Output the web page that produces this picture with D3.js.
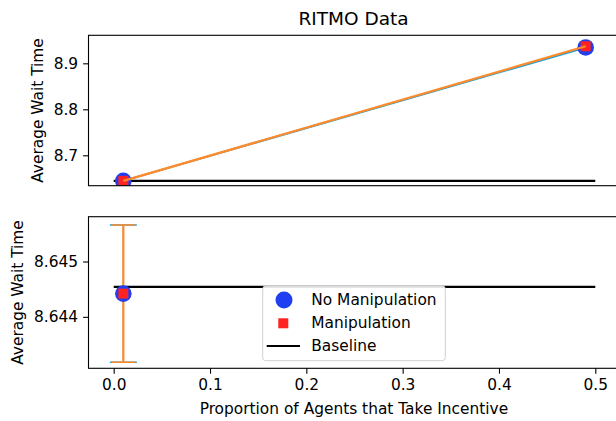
<!DOCTYPE html>
<html>
<head>
<meta charset="utf-8">
<script src="https://cdn.jsdelivr.net/npm/d3@7"></script>
<style>
  body { margin: 0; background: #fff; }
  svg { display: block; font-family: "DejaVu Sans", sans-serif; }
</style>
</head>
<body>
<svg width="616" height="421"></svg>
<script>
const svg = d3.select("svg");
const width = +svg.attr("width");
const height = +svg.attr("height");

// data
const proportions = [0.01, 0.49];
const noManip = [8.64442, 8.9345];
const noManipErr = [0.00124, 0.00124];
const manip = [8.64442, 8.937];
const manipErr = [0.00124, 0.00124];
const baselineX = [0.0, 0.5];
const baselineY = 8.64454;
const xTicks = [0.0, 0.1, 0.2, 0.3, 0.4, 0.5];
const topTicks = [8.7, 8.8, 8.9];
const bottomTicks = [8.644, 8.645];
const legendLabels = ["No Manipulation", "Manipulation", "Baseline"];

const blue = "#1f3ff0";
const red = "#ff2222";
const tabBlue = "#1f9fd4";
const tabOrange = "#ff8a2a";
const fs = 15.4;

const left = 88.5, right = 620;
const x = d3.scaleLinear().domain([0, 0.5]).range([113.7, 595.3]);

// top panel: connecting lines, bottom panel: zoomed error bars
const panels = [
  { top: 35.3, bottom: 185.7, domain: [8.6339, 8.9609], ticks: topTicks, fmt: d3.format(".1f"), labelX: 37.5, zoomed: false },
  { top: 216.7, bottom: 368.3, domain: [8.64307, 8.64581], ticks: bottomTicks, fmt: d3.format(".3f"), labelX: 17.5, zoomed: true }
];

panels.forEach((p, i) => {
  const y = d3.scaleLinear().domain(p.domain).range([p.bottom, p.top]);
  const g = svg.append("g");

  svg.append("clipPath").attr("id", "clip" + i)
    .append("rect").attr("x", left).attr("y", p.top)
    .attr("width", right - left).attr("height", p.bottom - p.top);

  const plot = g.append("g").attr("clip-path", `url(#clip${i})`);

  // baseline
  plot.append("line")
    .attr("x1", x(baselineX[0])).attr("x2", x(baselineX[1]))
    .attr("y1", y(baselineY)).attr("y2", y(baselineY))
    .attr("stroke", "#000").attr("stroke-width", 2.2);

  const line = d3.line().x((d, k) => x(proportions[k])).y(d => y(d));

  const drawErr = (vals, errs, color, cap, lw) => {
    const eg = plot.append("g").attr("stroke", color).attr("fill", "none");
    if (!p.zoomed) {
      eg.append("path").attr("d", line(vals)).attr("stroke-width", lw);
      return;
    }
    vals.forEach((v, k) => {
      const cx = x(proportions[k]);
      eg.append("line").attr("x1", cx).attr("x2", cx)
        .attr("y1", y(v - errs[k])).attr("y2", y(v + errs[k]))
        .attr("stroke-width", lw);
      [v - errs[k], v + errs[k]].forEach(e => {
        eg.append("line").attr("x1", cx - cap).attr("x2", cx + cap)
          .attr("y1", y(e)).attr("y2", y(e)).attr("stroke-width", 1.5);
      });
    });
  };

  const drawMarkers = () => {
    const mg = plot.append("g");
    noManip.forEach((v, k) => {
      mg.append("circle").attr("cx", x(proportions[k])).attr("cy", y(v))
        .attr("r", 8.3).attr("fill", blue);
    });
    manip.forEach((v, k) => {
      mg.append("rect").attr("x", x(proportions[k]) - 5).attr("y", y(v) - 5)
        .attr("width", 10).attr("height", 10).attr("fill", red);
    });
  };

  if (!p.zoomed) {
    drawErr(noManip, noManipErr, tabBlue, 13.5, 2.0);
    drawMarkers();
    drawErr(manip, manipErr, tabOrange, 11.5, 2.2);
  } else {
    drawErr(noManip, noManipErr, tabBlue, 13.5, 1.2);
    drawErr(manip, manipErr, tabOrange, 11.5, 2.2);
    drawMarkers();
  }

  // frame
  g.append("rect").attr("x", left).attr("y", p.top)
    .attr("width", right - left).attr("height", p.bottom - p.top)
    .attr("fill", "none").attr("stroke", "#000").attr("stroke-width", 1.1);

  // y axis
  const yAxis = g.append("g").attr("transform", `translate(${left},0)`)
    .call(d3.axisLeft(y).tickValues(p.ticks).tickFormat(p.fmt).tickSize(5.4).tickPadding(5));
  yAxis.select(".domain").remove();
  yAxis.selectAll("line").attr("stroke-width", 1.1);
  yAxis.selectAll("text").attr("font-size", fs).attr("font-family", "DejaVu Sans").attr("fill", "#000");

  svg.append("text")
    .attr("transform", `translate(${p.labelX},${(p.top + p.bottom) / 2}) rotate(-90)`)
    .attr("text-anchor", "middle").attr("dominant-baseline", "central")
    .attr("font-size", fs).text("Average Wait Time");
});

// x axis on bottom panel
const xAxis = svg.append("g").attr("transform", `translate(0,${panels[1].bottom})`)
  .call(d3.axisBottom(x).tickValues(xTicks).tickFormat(d3.format(".1f")).tickSize(5.4).tickPadding(5));
xAxis.select(".domain").remove();
xAxis.selectAll("line").attr("stroke-width", 1.1);
xAxis.selectAll("text").attr("font-size", fs).attr("font-family", "DejaVu Sans").attr("fill", "#000");

svg.append("text").attr("x", (left + 619.3) / 2).attr("y", 414)
  .attr("text-anchor", "middle").attr("font-size", fs)
  .text("Proportion of Agents that Take Incentive");

svg.append("text").attr("x", 353.5).attr("y", 25)
  .attr("text-anchor", "middle").attr("font-size", 18.5)
  .text("RITMO Data");

// legend
const lg = svg.append("g").attr("transform", "translate(262.7,286)");
lg.append("rect").attr("width", 182.6).attr("height", 74.7).attr("rx", 3)
  .attr("fill", "#fff").attr("fill-opacity", 0.9)
  .attr("stroke", "#d0d0d0").attr("stroke-width", 1);
const rowY = [14, 37.3, 60];
lg.append("circle").attr("cx", 21.3).attr("cy", rowY[0]).attr("r", 8.5).attr("fill", blue);
lg.append("rect").attr("x", 20.6 - 5).attr("y", rowY[1] - 5).attr("width", 10).attr("height", 10).attr("fill", red);
lg.append("line").attr("x1", 4).attr("x2", 37.3).attr("y1", rowY[2]).attr("y2", rowY[2])
  .attr("stroke", "#000").attr("stroke-width", 2.2);
lg.selectAll(null).data(legendLabels).join("text")
  .attr("x", 48.6).attr("y", (d, k) => rowY[k])
  .attr("dominant-baseline", "central").attr("font-size", fs)
  .text(d => d);
</script>
</body>
</html>
